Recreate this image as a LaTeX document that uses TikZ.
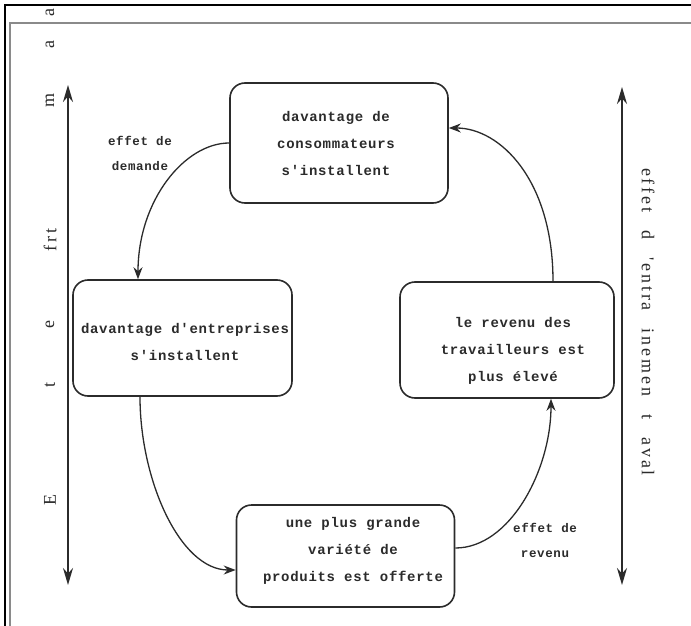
\documentclass[tikz,border=0pt]{standalone}
\usepackage{fontspec}
\setmainfont{Liberation Serif}
\newfontfamily\boxfont[LetterSpace=5]{Liberation Mono}
\newfontfamily\sidefont[LetterSpace=16]{Liberation Serif}
\usetikzlibrary{arrows.meta}
\definecolor{ink}{HTML}{2B2B2B}
\definecolor{rule}{HTML}{8A8A8A}
\tikzset{
  stage/.style={draw=ink, line width=1.6pt, rounded corners=15pt, fill=white},
  stagetext/.style={align=center, text=ink, font=\boxfont\bfseries\fontsize{14}{27}\selectfont},
  flow/.style={draw=ink, line width=1.3pt, -{Stealth[length=12pt,width=9pt]}},
  span/.style={draw=ink, line width=1.8pt, {Stealth[length=17pt,width=10pt]}-{Stealth[length=17pt,width=10pt]}},
  sidetext/.style={text=ink, font=\sidefont\fontsize{18}{20}\selectfont},
  effect/.style={align=center, text=ink, font=\boxfont\bfseries\fontsize{12.5}{25}\selectfont}
}
\begin{document}
\begin{tikzpicture}[x=1pt,y=-1pt]
\useasboundingbox (0,0) rectangle (691,626);
\fill[white] (0,0) rectangle (691,626);
% page frame
\draw[black, line width=1.6pt] (691,5) -- (5,5) -- (5,626);
\draw[rule, line width=1.4pt] (691,23) -- (10,23) -- (10,626);

% stages of the cycle
\node[stage, minimum width=218pt, minimum height=120pt] (conso) at (339,143) {};
\node[stage, minimum width=219pt, minimum height=116pt] (entre) at (182.5,338) {};
\node[stage, minimum width=214pt, minimum height=116pt] (revenu) at (507,340) {};
\node[stage, minimum width=218pt, minimum height=102pt] (variete) at (345.5,556) {};

\node[stagetext] (tconso) at (336,143.5) {davantage de\\consommateurs\\s'installent};
\node[stagetext] (tentre) at (185,341.5) {davantage d'entreprises\\s'installent};
\node[stagetext] (trevenu) at (513,351) {le revenu des\\travailleurs est\\plus élevé};
\node[stagetext] (tvariete) at (353,551) {une plus grande\\variété de\\produits est offerte};

% circular flows
\coordinate (c1) at (138,280);
\draw[flow] (conso.west) .. controls (185,143) and (138,200) .. (entre.north -| c1);
\coordinate (c2) at (140,396);
\draw[flow] (entre.south -| c2) .. controls (140,480) and (180,570) .. (variete.west |- 0,570);
\coordinate (c3) at (551,398);
\draw[flow] (variete.east |- 0,548) .. controls (510,548) and (551,470) .. (revenu.south -| c3);
\coordinate (c4) at (553,282);
\draw[flow] (revenu.north -| c4) .. controls (553,180) and (500,128) .. (conso.east |- 0,128);

\node[effect] (demande) at (140,153) {effet de\\demande};
\node[effect] (revenul) at (545,540) {effet de\\revenu};

% side arrows
\coordinate (la) at (68,85);
\coordinate (lb) at (68,585);
\draw[span] (la) -- (lb);
\coordinate (ra) at (622,87);
\coordinate (rb) at (622,585);
\draw[span] (ra) -- (rb);

\node[sidetext, rotate=-90] (aval) at (648,322) {effet\hspace{18pt}d\hspace{18pt}'entra\hspace{18pt}inemen\hspace{18pt}t\hspace{18pt}aval};

\node[sidetext, rotate=90] (l1) at (50,500) {E};
\node[sidetext, rotate=90] (l2) at (50,385) {t};
\node[sidetext, rotate=90] (l3) at (50,325) {e};
\node[sidetext, rotate=90] (l4) at (50,240) {frt};
\node[sidetext, rotate=90] (l5) at (50,100) {m};
\node[sidetext, rotate=90] (l6) at (50,45) {a};
\node[sidetext, rotate=90] (l7) at (50,13) {a};
\end{tikzpicture}
\end{document}
